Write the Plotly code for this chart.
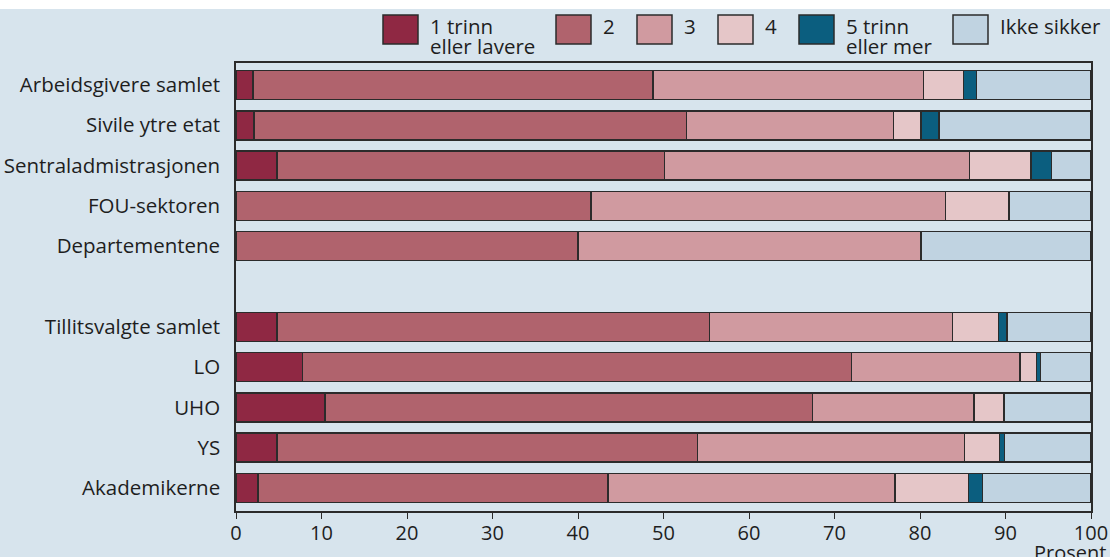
import plotly.graph_objects as go

categories = ["Arbeidsgivere samlet", "Sivile ytre etat", "Sentraladmistrasjonen",
              "FOU-sektoren", "Departementene", " ",
              "Tillitsvalgte samlet", "LO", "UHO", "YS", "Akademikerne"]

series_names = ["1 trinn<br>eller lavere", "2", "3", "4", "5 trinn<br>eller mer", "Ikke sikker"]

s1 = [2.0, 2.1, 4.8, 0.0, 0.0, None, 4.8, 7.8, 10.4, 4.8, 2.6]
s2 = [46.8, 50.6, 45.3, 41.5, 40.0, None, 50.6, 64.2, 57.0, 49.2, 40.9]
s3 = [31.6, 24.2, 35.7, 41.5, 40.1, None, 28.4, 19.7, 18.9, 31.2, 33.6]
s4 = [4.7, 3.2, 7.2, 7.4, 0.0, None, 5.4, 1.9, 3.5, 4.1, 8.6]
s5 = [1.5, 2.1, 2.4, 0.0, 0.0, None, 1.0, 0.5, 0.0, 0.6, 1.6]
s6 = [13.4, 17.8, 4.6, 9.6, 19.9, None, 9.8, 5.9, 10.2, 10.1, 12.7]

colors = ["#8f2843", "#b0636d", "#d09aa0", "#e5c6c8", "#0b5e7f", "#c0d3e1"]

x_ticks = [0, 10, 20, 30, 40, 50, 60, 70, 80, 90, 100]

BG = "#d7e4ed"
FONT = "Open Sans"
TXT = "#1e1e1e"
W, H = 1110, 557
ML, MR, MT, MB = 236, 19, 63, 46
PW, PH = W - ML - MR, H - MT - MB

fig = go.Figure()
for name, vals, col in zip(series_names, [s1, s2, s3, s4, s5, s6], colors):
    fig.add_trace(go.Bar(
        y=categories, x=vals, name=name, orientation="h",
        marker=dict(color=col, line=dict(color="#2b2b2b", width=1.5)),
        width=0.72, showlegend=False,
    ))

def px_x(px):
    return (px - ML) / PW

def px_y(py):
    return 1 + (MT - py) / PH

shapes = [dict(type="rect", xref="paper", yref="paper",
               x0=px_x(-5), x1=px_x(W + 5), y0=px_y(9), y1=px_y(-5),
               fillcolor="white", line=dict(width=0), layer="above")]
annotations = []

# custom legend
box_x = [383, 556, 637, 718, 799, 953]
for bx, name, col in zip(box_x, series_names, colors):
    shapes.append(dict(type="rect", xref="paper", yref="paper",
                       x0=px_x(bx), x1=px_x(bx + 35), y0=px_y(44), y1=px_y(15),
                       fillcolor=col, line=dict(color="#2b2b2b", width=1.5)))
    for i, line in enumerate(name.split("<br>")):
        annotations.append(dict(xref="paper", yref="paper", x=px_x(bx + 45),
                                y=px_y(26 + 20 * i), xanchor="left", yanchor="middle",
                                text=line, showarrow=False, align="left",
                                font=dict(family=FONT, size=20.5, color=TXT)))

annotations.append(dict(xref="paper", yref="paper", x=px_x(1108), y=px_y(537),
                        xanchor="right", yanchor="top", text="Prosent", showarrow=False,
                        font=dict(family=FONT, size=20, color=TXT)))

fig.update_layout(
    width=W, height=H,
    margin=dict(l=ML, r=MR, t=MT, b=MB, pad=0, autoexpand=False),
    barmode="stack",
    paper_bgcolor=BG, plot_bgcolor=BG,
    font=dict(family=FONT, size=20, color=TXT),
    shapes=shapes, annotations=annotations,
    xaxis=dict(range=[0, 100], tickvals=x_ticks, ticks="outside", ticklen=6,
               tickcolor="#2b2b2b", tickwidth=1.2, showgrid=False, zeroline=False,
               showline=True, linecolor="#2b2b2b", linewidth=1.5, mirror=True,
               automargin=False, ticklabelstandoff=-3,
               tickfont=dict(family=FONT, size=20, color=TXT)),
    yaxis=dict(categoryorder="array", categoryarray=categories, range=[10.57, -0.546],
               showgrid=False, zeroline=False, showline=True, linecolor="#2b2b2b",
               linewidth=1.5, mirror=True, ticks="", ticklabelstandoff=10,
               automargin=False, tickfont=dict(family=FONT, size=20.5, color=TXT)),
)

fig.write_html("out.html")
